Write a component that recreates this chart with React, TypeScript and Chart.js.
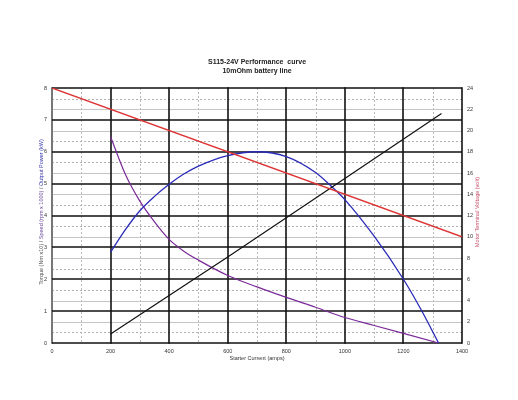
import React, { useEffect, useRef } from "react";
import { Chart, registerables } from "chart.js";

Chart.register(...registerables);

const titleLines = ["S115-24V Performance  curve", "10mOhm battery line"];
const xTitle = "Starter Current (amps)";
const rightTitle = "Motor Terminal Voltage (volt)";
const leftTitleParts = [
  { text: "Torque (Nm x10) / ", color: "#555555" },
  { text: "Speed (rpm x 1000)", color: "#6a4a9a" },
  { text: " / ", color: "#555555" },
  { text: "Output Power (kW)", color: "#3a3ab0" },
];

const xTicks = [0, 200, 400, 600, 800, 1000, 1200, 1400];
const xMinorTicks = [100, 300, 500, 700, 900, 1100, 1300];
const leftTicks = [0, 1, 2, 3, 4, 5, 6, 7, 8];
const rightTicks = [0, 2, 4, 6, 8, 10, 12, 14, 16, 18, 20, 22, 24];
const rightMinorTicks = [1, 2, 4, 5, 7, 8, 10, 11, 13, 14, 16, 17, 19, 20, 22, 23];

// Motor terminal voltage (right axis)
const voltageCurrent = [0, 1400];
const voltageValues = [24, 10];
// Torque (Nm x10)
const torqueCurrent = [200, 600, 1000, 1330];
const torqueValues = [0.28, 2.7, 5.16, 7.2];
// Output power (kW)
const powerCurrent = [200, 250, 300, 350, 400, 450, 500, 600, 700, 800, 900, 950, 1000, 1100, 1200, 1260, 1320];
const powerValues = [2.85, 3.55, 4.15, 4.6, 4.98, 5.3, 5.55, 5.88, 6.0, 5.85, 5.35, 4.95, 4.5, 3.35, 2.0, 1.05, 0];
// Speed (rpm x 1000)
const speedCurrent = [200, 250, 300, 350, 400, 450, 500, 600, 700, 800, 900, 1000, 1100, 1200, 1320];
const speedValues = [6.47, 5.3, 4.45, 3.8, 3.25, 2.88, 2.6, 2.12, 1.76, 1.43, 1.12, 0.8, 0.55, 0.3, 0];

const FONT = "'Liberation Sans', Arial, sans-serif";

const pts = (xs: number[], ys: number[]) => xs.map((x, i) => ({ x, y: ys[i] }));

const gridPlugin = {
  id: "customGrid",
  beforeDatasetsDraw(chart: any) {
    const { ctx, chartArea: a, scales } = chart;
    const sx = scales.x;
    const sy = scales.y;
    const sy2 = scales.y2;
    ctx.save();
    ctx.lineCap = "butt";
    ctx.strokeStyle = "#b8b8b8";
    ctx.lineWidth = 1;
    ctx.setLineDash([2, 2]);
    xMinorTicks.forEach((v) => {
      const px = Math.round(sx.getPixelForValue(v)) + 0.5;
      ctx.beginPath();
      ctx.moveTo(px, a.top);
      ctx.lineTo(px, a.bottom);
      ctx.stroke();
    });
    rightMinorTicks.forEach((v) => {
      const py = Math.round(sy2.getPixelForValue(v)) + 0.5;
      if (v % 2 === 0) {
        ctx.setLineDash([]);
        ctx.strokeStyle = "#c4c4c4";
      } else {
        ctx.setLineDash([2, 2]);
        ctx.strokeStyle = "#b0b0b0";
      }
      ctx.beginPath();
      ctx.moveTo(a.left, py);
      ctx.lineTo(a.right, py);
      ctx.stroke();
    });
    ctx.setLineDash([]);
    xTicks.forEach((v) => {
      const px = Math.round(sx.getPixelForValue(v));
      ctx.strokeStyle = v === 0 ? "#777777" : "#111111";
      ctx.lineWidth = v === 0 ? 2 : 1.6;
      ctx.beginPath();
      ctx.moveTo(px, a.top - 0.8);
      ctx.lineTo(px, a.bottom + 0.8);
      ctx.stroke();
    });
    ctx.strokeStyle = "#111111";
    ctx.lineWidth = 1.6;
    leftTicks.forEach((v) => {
      const py = Math.round(sy.getPixelForValue(v));
      ctx.beginPath();
      ctx.moveTo(a.left, py);
      ctx.lineTo(a.right, py);
      ctx.stroke();
    });
    ctx.restore();
  },
  afterDraw(chart: any) {
    const { ctx, chartArea: a } = chart;
    const cx = (a.left + a.right) / 2;
    ctx.save();
    ctx.textAlign = "center";
    ctx.textBaseline = "middle";
    ctx.fillStyle = "#222222";
    ctx.font = `bold 7px ${FONT}`;
    ctx.fillText(titleLines[0], cx, 62);
    ctx.fillText(titleLines[1], cx, 71);
    ctx.font = `5.5px ${FONT}`;
    ctx.fillStyle = "#333333";
    ctx.fillText(xTitle, cx, 358.5);
    ctx.save();
    ctx.translate(477, 212);
    ctx.rotate(-Math.PI / 2);
    ctx.fillStyle = "#c8506a";
    ctx.fillText(rightTitle, 0, 0);
    ctx.restore();
    ctx.save();
    ctx.translate(41, 212);
    ctx.rotate(-Math.PI / 2);
    ctx.textAlign = "left";
    const total = leftTitleParts.reduce((s, p) => s + ctx.measureText(p.text).width, 0);
    let xpos = -total / 2;
    leftTitleParts.forEach((p) => {
      ctx.fillStyle = p.color;
      ctx.fillText(p.text, xpos, 0);
      xpos += ctx.measureText(p.text).width;
    });
    ctx.restore();
    ctx.restore();
  },
};

export default function App() {
  const canvasRef = useRef<HTMLCanvasElement | null>(null);

  useEffect(() => {
    if (!canvasRef.current) return;
    const tickFont = { family: FONT, size: 5.5 };
    const noGrid = { display: false, drawTicks: false, tickLength: 0 };
    const chart = new Chart(canvasRef.current, {
      type: "line",
      data: {
        datasets: [
          {
            label: "Voltage",
            data: pts(voltageCurrent, voltageValues),
            yAxisID: "y2",
            borderColor: "#dd3333",
            borderWidth: 1.4,
            pointRadius: 0,
          },
          {
            label: "Torque",
            data: pts(torqueCurrent, torqueValues),
            yAxisID: "y",
            borderColor: "#111111",
            borderWidth: 1.2,
            pointRadius: 0,
          },
          {
            label: "Power",
            data: pts(powerCurrent, powerValues),
            yAxisID: "y",
            borderColor: "#2a2ab8",
            borderWidth: 1.3,
            pointRadius: 0,
            cubicInterpolationMode: "monotone",
          },
          {
            label: "Speed",
            data: pts(speedCurrent, speedValues),
            yAxisID: "y",
            borderColor: "#7a2a98",
            borderWidth: 1.2,
            pointRadius: 0,
            cubicInterpolationMode: "monotone",
          },
        ],
      } as any,
      options: {
        animation: false,
        responsive: false,
        maintainAspectRatio: false,
        layout: { padding: { top: 88, left: 0, right: 0, bottom: 0 } },
        plugins: {
          legend: { display: false },
          tooltip: { enabled: false },
          title: { display: false },
        },
        scales: {
          x: {
            type: "linear",
            min: 0,
            max: 1400,
            afterBuildTicks: (s: any) => {
              s.ticks = xTicks.map((v) => ({ value: v }));
            },
            afterFit: (s: any) => {
              s.height = 57;
            },
            grid: noGrid,
            border: { display: false },
            ticks: {
              font: tickFont,
              color: "#333333",
              padding: 5,
              maxRotation: 0,
              autoSkip: false,
              callback: (v: any) => String(v),
            },
          },
          y: {
            type: "linear",
            position: "left",
            min: 0,
            max: 8,
            afterBuildTicks: (s: any) => {
              s.ticks = leftTicks.map((v) => ({ value: v }));
            },
            afterFit: (s: any) => {
              s.width = 52;
            },
            grid: noGrid,
            border: { display: false },
            ticks: { font: tickFont, color: "#333333", padding: 5, callback: (v: any) => String(v) },
          },
          y2: {
            type: "linear",
            position: "right",
            min: 0,
            max: 24,
            afterBuildTicks: (s: any) => {
              s.ticks = rightTicks.map((v) => ({ value: v }));
            },
            afterFit: (s: any) => {
              s.width = 56;
            },
            grid: noGrid,
            border: { display: false },
            ticks: { font: tickFont, color: "#333333", padding: 5, callback: (v: any) => String(v) },
          },
        },
      } as any,
      plugins: [gridPlugin],
    });
    return () => chart.destroy();
  }, []);

  return (
    <div style={{ position: "fixed", left: 0, top: 0, width: 518, height: 400, background: "#ffffff" }}>
      <canvas ref={canvasRef} width={518} height={400} style={{ width: 518, height: 400 }} />
    </div>
  );
}
